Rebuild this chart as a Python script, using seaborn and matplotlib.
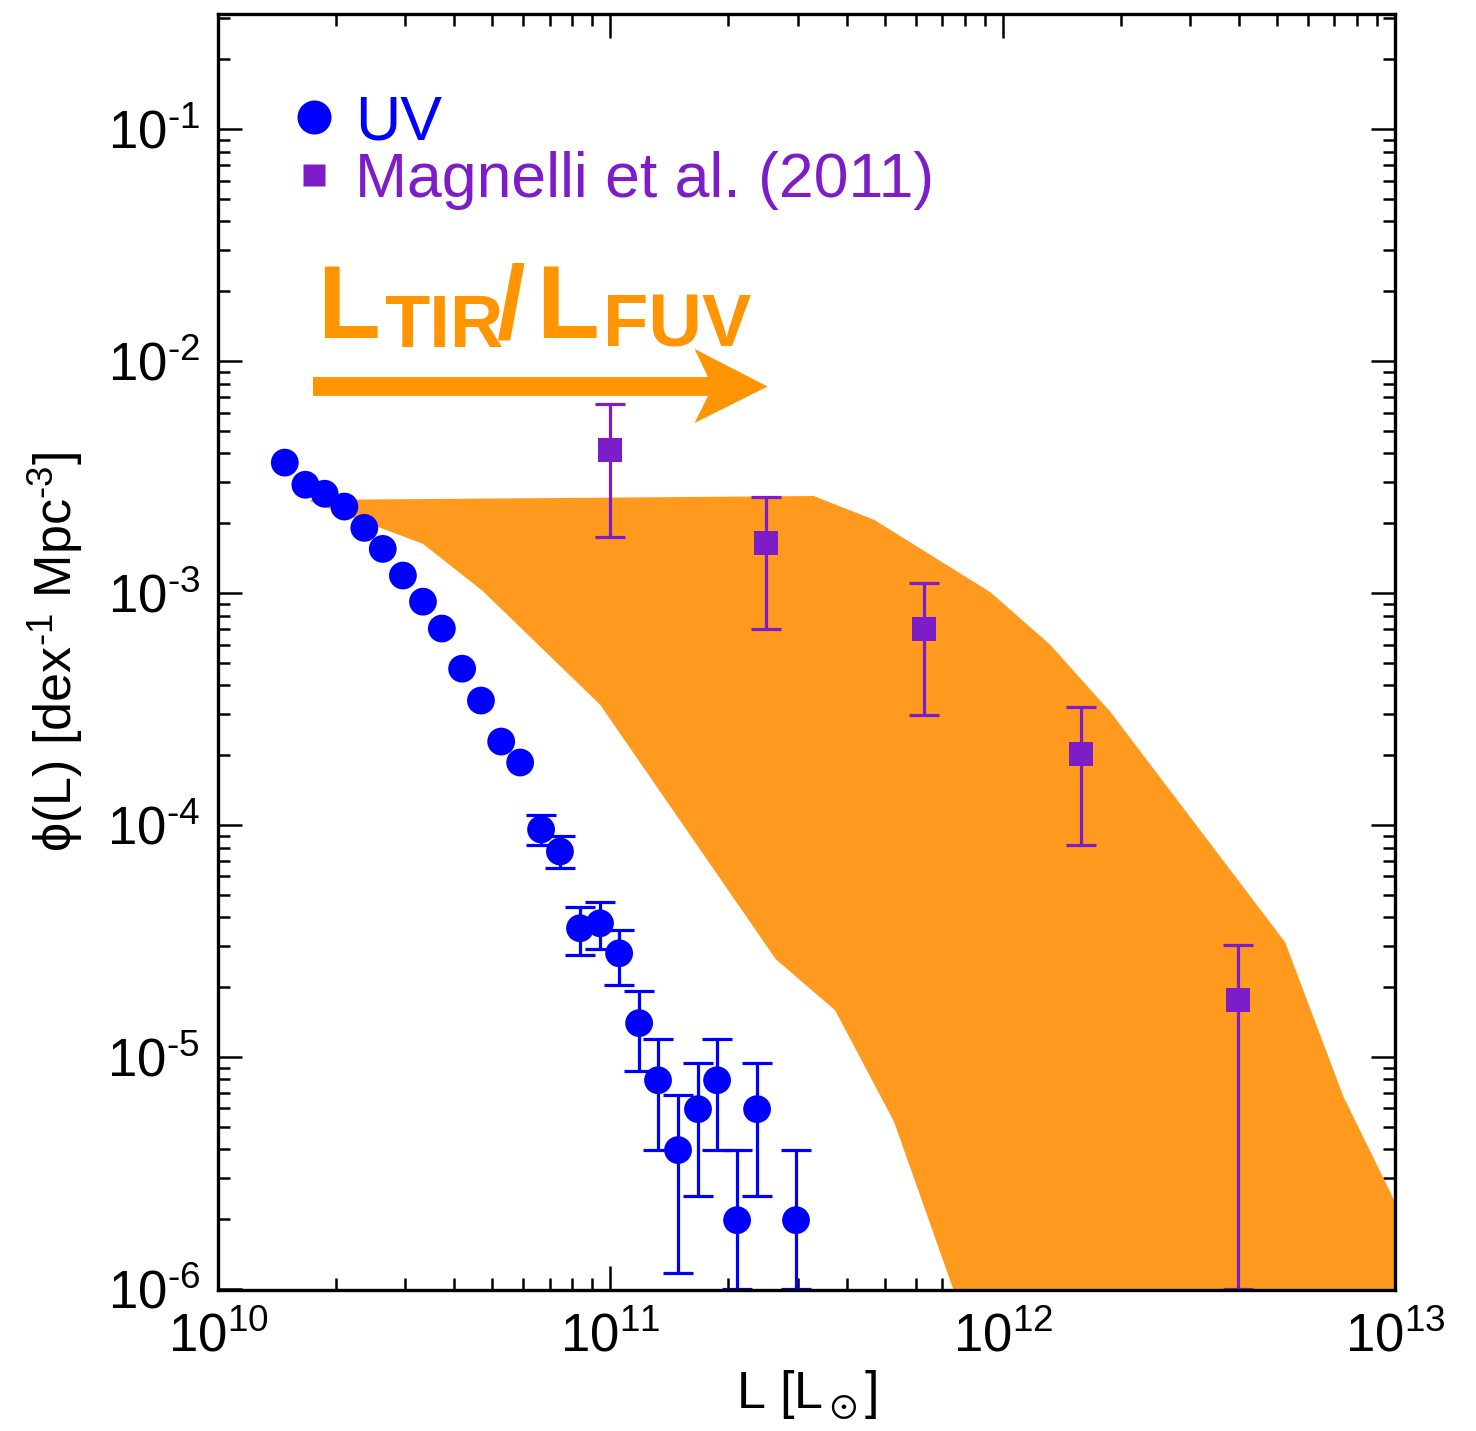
import numpy as np
import pandas as pd
import matplotlib
matplotlib.use("Agg")
import matplotlib.pyplot as plt
from matplotlib.patches import Polygon
from matplotlib.lines import Line2D
from matplotlib.ticker import FixedLocator, FuncFormatter, LogLocator, NullFormatter
import seaborn as sns

# ---------------- data ----------------
uv_L = [1.48e10, 1.67e10, 1.87e10, 2.10e10, 2.36e10, 2.63e10, 2.96e10, 3.33e10,
        3.72e10, 4.19e10, 4.68e10, 5.27e10, 5.89e10, 6.66e10, 7.44e10, 8.37e10,
        9.41e10, 1.053e11, 1.184e11, 1.323e11, 1.488e11, 1.673e11, 1.871e11,
        2.104e11, 2.366e11, 2.974e11]
uv_phi = [3.65e-3, 2.93e-3, 2.68e-3, 2.36e-3, 1.91e-3, 1.55e-3, 1.19e-3, 9.18e-4,
          7.03e-4, 4.72e-4, 3.44e-4, 2.29e-4, 1.86e-4, 9.57e-5, 7.69e-5, 3.59e-5,
          3.77e-5, 2.80e-5, 1.40e-5, 7.94e-6, 3.97e-6, 5.96e-6, 7.94e-6,
          1.98e-6, 5.96e-6, 1.98e-6]
uv_hi = [3.65e-3, 2.93e-3, 2.68e-3, 2.36e-3, 1.91e-3, 1.55e-3, 1.19e-3, 9.18e-4,
         7.03e-4, 4.72e-4, 3.44e-4, 2.29e-4, 1.86e-4, 1.10e-4, 9.01e-5, 4.42e-5,
         4.64e-5, 3.52e-5, 1.92e-5, 1.19e-5, 6.84e-6, 9.40e-6, 1.19e-5,
         3.97e-6, 9.40e-6, 3.97e-6]
uv_lo = [3.65e-3, 2.93e-3, 2.68e-3, 2.36e-3, 1.91e-3, 1.55e-3, 1.19e-3, 9.18e-4,
         7.03e-4, 4.72e-4, 3.44e-4, 2.29e-4, 1.86e-4, 8.17e-5, 6.50e-5, 2.74e-5,
         2.91e-5, 2.04e-5, 8.69e-6, 3.97e-6, 1.17e-6, 2.51e-6, 3.97e-6,
         1.0e-6, 2.51e-6, 1.0e-6]

mag_L = [1.0e11, 2.5e11, 6.3e11, 1.58e12, 3.98e12]
mag_phi = [4.15e-3, 1.65e-3, 7.03e-4, 2.03e-4, 1.76e-5]
mag_hi = [6.55e-3, 2.60e-3, 1.11e-3, 3.24e-4, 3.03e-5]
mag_lo = [1.75e-3, 7.03e-4, 2.99e-4, 8.17e-5, 1.0e-6]

band_upper_L = [1.72e10, 3.30e11, 4.70e11, 9.29e11, 1.32e12, 1.88e12, 5.25e12,
                7.38e12, 1.007e13, 1.3e13]
band_upper_phi = [2.52e-3, 2.62e-3, 2.07e-3, 1.01e-3, 6.0e-4, 3.08e-4, 3.12e-5,
                  6.78e-6, 2.32e-6, 4.3e-7]
band_lower_L = [1.72e10, 3.33e10, 4.73e10, 9.42e10, 2.64e11, 3.74e11, 5.28e11,
                7.48e11, 8.9e11, 1.3e13]
band_lower_phi = [2.48e-3, 1.63e-3, 1.02e-3, 3.30e-4, 2.64e-5, 1.59e-5, 5.28e-6,
                  1.0e-6, 4.3e-7, 4.3e-7]

legend_labels = ["UV", "Magnelli et al. (2011)"]
x_ticks = [1e10, 1e11, 1e12, 1e13]
y_ticks = [1e-6, 1e-5, 1e-4, 1e-3, 1e-2, 1e-1]

BLUE = "#0000FF"
PURPLE = "#7D1DC9"
BAND = "#FF9A1E"
ARROW = "#FF9502"

# ---------------- style ----------------
sns.set_theme(style="ticks")
plt.rcParams["font.family"] = ["Liberation Sans", "DejaVu Sans"]
plt.rcParams["mathtext.fontset"] = "custom"
plt.rcParams["mathtext.rm"] = "Liberation Sans"
plt.rcParams["mathtext.it"] = "Liberation Sans:italic"
plt.rcParams["mathtext.bf"] = "Liberation Sans:bold"
plt.rcParams["mathtext.fallback"] = "stixsans"

W, H = 1476, 1431
fig = plt.figure(figsize=(W/100, H/100), dpi=100)
ax = fig.add_axes([218/W, 1-1290/H, (1395-218)/W, (1290-13.5)/H])
ax.set_xscale("log")
ax.set_yscale("log")
ax.set_xlim(1e10, 1e13)
ax.set_ylim(0.99e-6, 0.315)

# band
poly_x = list(band_upper_L) + list(band_lower_L[::-1])
poly_y = list(band_upper_phi) + list(band_lower_phi[::-1])
ax.fill(poly_x, poly_y, color=BAND, lw=0, zorder=1)

# UV points
uv = pd.DataFrame({"L": uv_L, "phi": uv_phi, "lo": uv_lo, "hi": uv_hi})
uve = uv[uv["hi"] > uv["phi"]]
ax.errorbar(uve["L"], uve["phi"], yerr=[uve["phi"] - uve["lo"], uve["hi"] - uve["phi"]],
            fmt="none", ecolor=BLUE, elinewidth=2.3, capsize=11, capthick=2.3, zorder=2)
sns.scatterplot(data=uv, x="L", y="phi", ax=ax, color=BLUE, marker="o", s=400,
                edgecolor="none", zorder=3, legend=False)

# Magnelli points
mg = pd.DataFrame({"L": mag_L, "phi": mag_phi, "lo": mag_lo, "hi": mag_hi})
ax.errorbar(mg["L"], mg["phi"], yerr=[mg["phi"] - mg["lo"], mg["hi"] - mg["phi"]],
            fmt="none", ecolor=PURPLE, elinewidth=2.3, capsize=11, capthick=2.3, zorder=2)
sns.scatterplot(data=mg, x="L", y="phi", ax=ax, color=PURPLE, marker="s", s=300,
                edgecolor="none", zorder=3, legend=False)

# arrow
arrow_pts = [(0.0807, 0.7152), (0.4163, 0.7152), (0.4049, 0.7372), (0.4669, 0.7078),
             (0.4049, 0.6792), (0.4163, 0.7004), (0.0807, 0.7004)]
ax.add_patch(Polygon(arrow_pts, closed=True, transform=ax.transAxes,
                     facecolor=ARROW, edgecolor="none", zorder=4))

# L_TIR / L_FUV label, built from pieces (pixel positions of the reference)
pieces = [("L", 74, 317, 337.7), ("TIR", 53.4, 384.5, 346.7), ("/", 74, 497, 337.7),
          ("L", 74, 536, 337.7), ("FUV", 53.4, 603.5, 346.7)]
for txt, fs, px, py in pieces:
    fig.text(px/W, 1-py/H, txt, color=ARROW, fontsize=fs, fontweight="bold",
             family="Liberation Sans", ha="left", va="baseline", zorder=5)

# legend
handles = [Line2D([], [], marker="o", ms=24.5, color=BLUE, ls="", mec="none"),
           Line2D([], [], marker="s", ms=16.5, color=PURPLE, ls="", mec="none")]
ax.legend(handles, legend_labels, loc="upper left", bbox_to_anchor=(0.0552, 0.9377),
          frameon=False, fontsize=45, labelcolor=[BLUE, PURPLE], handlelength=1.0,
          handletextpad=0.15, labelspacing=-0.02, borderpad=0, borderaxespad=0)

# axes styling
for s in ax.spines.values():
    s.set_linewidth(2.4)
    s.set_color("black")
    s.set_visible(True)
ax.xaxis.set_major_locator(FixedLocator(x_ticks))
ax.yaxis.set_major_locator(FixedLocator(y_ticks))
ax.xaxis.set_minor_locator(LogLocator(base=10, subs=np.arange(2, 10)))
ax.yaxis.set_minor_locator(LogLocator(base=10, subs=np.arange(2, 10)))

def fmt_func(v, p):
    e = int(round(np.log10(v)))
    if e < 0:
        return r"$\mathregular{10^{\text{-}%d}}$" % (-e)
    return r"$\mathregular{10^{%d}}$" % e

fmt = FuncFormatter(fmt_func)
ax.xaxis.set_major_formatter(fmt)
ax.yaxis.set_major_formatter(fmt)
ax.xaxis.set_minor_formatter(NullFormatter())
ax.yaxis.set_minor_formatter(NullFormatter())
ax.tick_params(which="both", direction="in", top=True, right=True, color="black",
               labelsize=38, labelcolor="black")
ax.tick_params(which="major", length=17, width=1.8)
ax.tick_params(which="minor", length=8.5, width=1.8)
ax.tick_params(axis="y", which="major", pad=13)
ax.tick_params(axis="x", which="major", pad=16)

ax.set_xlabel(r"L [L$_\odot$]", fontsize=37.5, color="black", labelpad=4)
ax.set_ylabel(r"ϕ(L) [dex$\mathregular{^{\text{-}1}}$ Mpc$\mathregular{^{\text{-}3}}$]",
              fontsize=37.5, color="black", labelpad=16)
ax.grid(False)
ax.set_facecolor("white")
fig.patch.set_facecolor("white")

fig.savefig("out.png", dpi=100, facecolor="white")
